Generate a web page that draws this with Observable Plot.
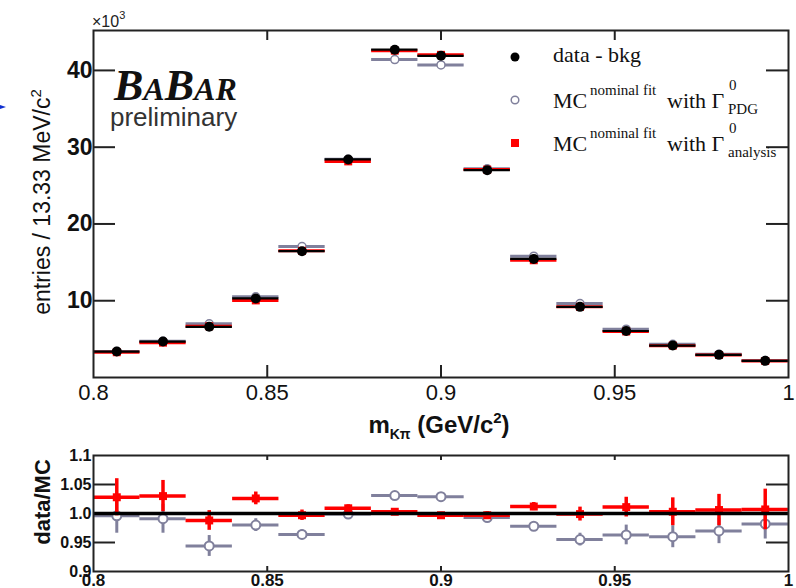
<!DOCTYPE html>
<html><head><meta charset="utf-8">
<script src="https://cdn.jsdelivr.net/npm/d3@7"></script>
<script src="https://cdn.jsdelivr.net/npm/@observablehq/plot@0.6"></script>
<style>
body{margin:0;background:#fff;}
#wrap{position:relative;width:796px;height:588px;overflow:hidden;background:#fff;}
#main{position:absolute;left:0;top:0;}
#ratio{position:absolute;left:0;top:440px;}
</style></head><body><div id="wrap"><div id="main"></div><div id="ratio"></div></div>
<script>
// ---- data (values in units of 10^3 entries) ----
const binCenters = [0.8067,0.82,0.8333,0.8467,0.86,0.8733,0.8867,0.9,0.9133,0.9267,0.94,0.9533,0.9667,0.98,0.9933];
const binWidth = 0.01333;
const dataBkg    = [3.38,4.68,6.60,10.30,16.45,28.40,42.70,41.90,27.00,15.45,9.20,6.06,4.16,2.95,2.17];
const mcPDG      = [3.39,4.72,6.99,10.51,17.06,28.43,41.42,40.72,27.19,15.80,9.63,6.29,4.33,3.04,2.21];
const mcAnalysis = [3.29,4.54,6.68,10.04,16.50,28.15,42.57,42.03,27.08,15.27,9.21,5.99,4.15,2.93,2.15];
const ratioPDG      = [0.996,0.991,0.944,0.980,0.964,0.999,1.031,1.029,0.993,0.978,0.955,0.963,0.960,0.970,0.982];
const errPDG        = [0.030,0.025,0.018,0.011,0.008,0.005,0.004,0.004,0.005,0.007,0.011,0.017,0.019,0.022,0.026];
const ratioAnalysis = [1.028,1.030,0.988,1.026,0.997,1.009,1.003,0.997,0.997,1.012,0.999,1.011,1.003,1.006,1.007];
const errAnalysis   = [0.032,0.027,0.017,0.011,0.009,0.006,0.005,0.005,0.006,0.007,0.012,0.017,0.024,0.027,0.035];
const xTicks = [0.8,0.85,0.9,0.95,1];
const xTickLabels = ["0.8","0.85","0.9","0.95","1"];
const yTicks = [10,20,30,40];
const ratioTicks = [0.9,0.95,1.0,1.05,1.1];
const ratioTickLabels = ["0.9","0.95","1.0","1.05","1.1"];

const rows = binCenters.map((x,i)=>({x, lo:x-binWidth/2, hi:x+binWidth/2,
  data:dataBkg[i], pdg:mcPDG[i], ana:mcAnalysis[i],
  rP:ratioPDG[i], eP:errPDG[i], rA:ratioAnalysis[i], eA:errAnalysis[i]}));

const GRAY = "#80809c", RED = "#ff0000", FRAME = "#222";
const W = 796, ML = 93, MR = 8;
const pxX = (W-ML-MR)/0.2;            // px per x unit
const YMAX = 45.2;
const MT = 30, MB = 63, H1 = 440;
const pxY = (H1-MT-MB)/YMAX;
const sans = "Liberation Sans, Arial, Helvetica, sans-serif";
const serif = "Liberation Serif, Times New Roman, serif";
const fmtX = d => xTickLabels[xTicks.findIndex(t=>Math.abs(t-d)<1e-9)];
const fmtR = d => ratioTickLabels[ratioTicks.findIndex(t=>Math.abs(t-d)<1e-9)];

const main = Plot.plot({
  width: W, height: H1, marginLeft: ML, marginRight: MR, marginTop: MT, marginBottom: MB,
  style: {fontFamily: sans, background: "transparent", overflow: "visible"},
  x: {domain: [0.8, 1]},
  y: {domain: [0, YMAX]},
  marks: [
    Plot.ruleY(rows, {y: "pdg", x1: "lo", x2: "hi", stroke: GRAY, strokeWidth: 3}),
    Plot.dot(rows, {x: "x", y: "pdg", r: 4, fill: "white", stroke: GRAY, strokeWidth: 1.5}),
    Plot.ruleY(rows, {y: "ana", x1: "lo", x2: "hi", stroke: RED, strokeWidth: 3}),
    Plot.dot(rows, {x: "x", y: "ana", symbol: "square", r: 4.5, fill: RED}),
    Plot.ruleY(rows, {y: "data", x1: "lo", x2: "hi", stroke: "black", strokeWidth: 2.2}),
    Plot.dot(rows, {x: "x", y: "data", r: 5, fill: "black"}),
    // inward ticks
    Plot.ruleY(yTicks, {x1: 0.8, x2: 0.8 + 22/pxX, stroke: FRAME, strokeWidth: 2}),
    Plot.ruleY(yTicks, {x1: 1 - 22/pxX, x2: 1, stroke: FRAME, strokeWidth: 2}),
    Plot.ruleX(xTicks.slice(1,4), {y1: 0, y2: 12/pxY, stroke: FRAME, strokeWidth: 2}),
    Plot.ruleX(xTicks.slice(1,4), {y1: YMAX - 10/pxY, y2: YMAX, stroke: FRAME, strokeWidth: 2}),
    Plot.frame({stroke: FRAME, strokeWidth: 2}),
    Plot.axisX({ticks: xTicks, tickFormat: fmtX, tickSize: 0, tickPadding: 7, label: null, fontSize: 22, fill: "#111"}),
    Plot.axisY({ticks: yTicks, tickFormat: d => String(d), tickSize: 0, tickPadding: 1, label: null, fontSize: 23, fontWeight: "bold", fill: "#111"})
  ]
});

const ratio = Plot.plot({
  width: W, height: 148, marginLeft: ML, marginRight: MR, marginTop: 15, marginBottom: 17,
  style: {fontFamily: sans, background: "transparent", overflow: "visible"},
  x: {domain: [0.8, 1]},
  y: {domain: [0.9, 1.1]},
  marks: [
    Plot.ruleY(rows, {y: "rP", x1: "lo", x2: "hi", stroke: GRAY, strokeWidth: 3}),
    Plot.ruleX(rows, {x: "x", y1: d => d.rP - d.eP, y2: d => d.rP + d.eP, stroke: GRAY, strokeWidth: 3}),
    Plot.dot(rows, {x: "x", y: "rP", r: 4.5, fill: "white", stroke: GRAY, strokeWidth: 2}),
    Plot.ruleY(rows, {y: "rA", x1: "lo", x2: "hi", stroke: RED, strokeWidth: 3.5}),
    Plot.ruleX(rows, {x: "x", y1: d => d.rA - d.eA, y2: d => d.rA + d.eA, stroke: RED, strokeWidth: 3.5}),
    Plot.dot(rows, {x: "x", y: "rA", symbol: "square", r: 4.5, fill: RED}),
    Plot.ruleY([1.0], {stroke: "black", strokeWidth: 3.5}),
    Plot.ruleY([0.95, 1.05], {x1: 0.8, x2: 0.8 + 22/pxX, stroke: FRAME, strokeWidth: 2}),
    Plot.ruleY([0.95, 1.05], {x1: 1 - 22/pxX, x2: 1, stroke: FRAME, strokeWidth: 2}),
    Plot.ruleX(xTicks.slice(1,4), {y1: 0.9, y2: 0.9 + 5*0.2/116, stroke: FRAME, strokeWidth: 2}),
    Plot.ruleX(xTicks.slice(1,4), {y1: 1.1 - 5*0.2/116, y2: 1.1, stroke: FRAME, strokeWidth: 2}),
    Plot.frame({stroke: FRAME, strokeWidth: 2}),
    Plot.axisX({ticks: xTicks, tickFormat: fmtX, tickSize: 0, tickPadding: 2, label: null, fontSize: 17, fontWeight: "bold", fill: "#111"}),
    Plot.axisY({ticks: ratioTicks, tickFormat: fmtR, tickSize: 0, tickPadding: 2, label: null, fontSize: 16, fontWeight: "bold", fill: "#111"})
  ]
});

document.getElementById("main").appendChild(main);
document.getElementById("ratio").appendChild(ratio);

// ---- annotations (text) ----
const s1 = d3.select(main);
// x10^3
const e3 = s1.append("text").attr("x", 92).attr("y", 27).attr("text-anchor", "start").attr("font-family", sans).attr("font-size", 16).attr("fill", "#222");
e3.append("tspan").text("×10");
e3.append("tspan").attr("dy", -8).attr("font-size", 11).text("3");
// y label
const yl = s1.append("text").attr("transform", "translate(50,202) rotate(-90)").attr("text-anchor", "middle")
  .attr("font-family", sans).attr("font-size", 23).attr("fill", "#111");
yl.append("tspan").text("entries / 13.33 MeV/c");
yl.append("tspan").attr("dy", -9).attr("font-size", 15).text("2");
// x label
const xl = s1.append("text").attr("x", 439).attr("y", 433).attr("text-anchor", "middle")
  .attr("font-family", sans).attr("font-size", 24).attr("font-weight", "bold").attr("fill", "#111");
xl.append("tspan").text("m");
xl.append("tspan").attr("dy", 6).attr("font-size", 14).text("Kπ");
xl.append("tspan").attr("dy", -6).text(" (GeV/c");
xl.append("tspan").attr("dy", -10).attr("font-size", 15).text("2");
xl.append("tspan").attr("dy", 10).text(")");
// BABAR logo
const bb = s1.append("text").attr("x", 114).attr("y", 100).attr("text-anchor", "start").attr("font-family", serif)
  .attr("font-style", "italic").attr("font-weight", "bold").attr("fill", "#111");
bb.append("tspan").attr("font-size", 44).text("B");
bb.append("tspan").attr("font-size", 32).text("A");
bb.append("tspan").attr("font-size", 44).text("B");
bb.append("tspan").attr("font-size", 32).text("AR");
s1.append("text").attr("x", 110).attr("y", 126).attr("text-anchor", "start").attr("font-family", sans).attr("font-size", 26)
  .attr("fill", "#333").text("preliminary");
// legend
s1.append("circle").attr("cx", 515).attr("cy", 57).attr("r", 4.5).attr("fill", "black");
s1.append("circle").attr("cx", 515).attr("cy", 100).attr("r", 3.8).attr("fill", "white").attr("stroke", GRAY).attr("stroke-width", 1.5);
s1.append("rect").attr("x", 511).attr("y", 139).attr("width", 8).attr("height", 8).attr("fill", RED);
const leg = (txt, x, y, size) => s1.append("text").attr("x", x).attr("y", y).attr("text-anchor", "start")
  .attr("font-family", serif).attr("font-size", size).attr("fill", "#111").text(txt);
leg("data - bkg", 553, 62, 22);
leg("MC", 553, 108, 22); leg("nominal fit", 590, 95, 15); leg("with Γ", 667, 108, 22);
leg("0", 729, 90, 15); leg("PDG", 728, 114, 15);
leg("MC", 553, 151, 22); leg("nominal fit", 590, 138, 15); leg("with Γ", 667, 151, 22);
leg("0", 729, 133, 15); leg("analysis", 728, 157, 15);
// stray blue mark at left edge
s1.append("path").attr("d", "M0,105 L6,107 L0,109 Z").attr("fill", "#1030d0");

const s2 = d3.select(ratio);
s2.append("text").attr("transform", "translate(50,62) rotate(-90)").attr("text-anchor", "middle")
  .attr("font-family", sans).attr("font-size", 22).attr("font-weight", "bold").attr("fill", "#111").text("data/MC");
</script>
</body></html>
